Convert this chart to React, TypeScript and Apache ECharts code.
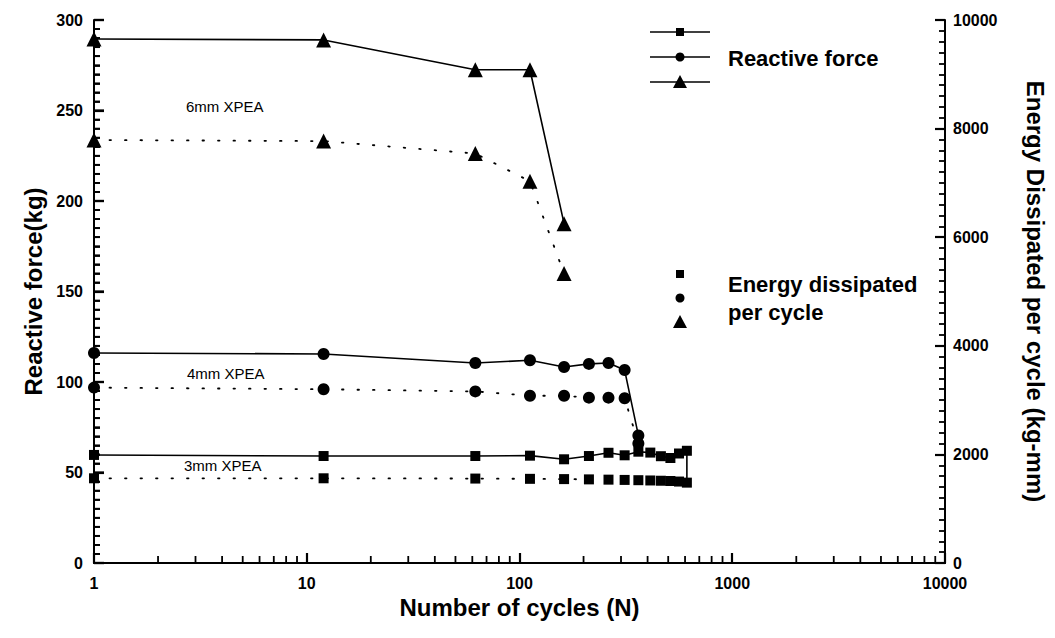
import React, { useEffect, useRef } from "react";
import * as echarts from "echarts";

// ---- data ----
const cycles6 = [1, 12, 62, 112, 162];
const force6 = [289.5, 289, 272.5, 272.5, 187.5];
const energy6 = [7790, 7770, 7540, 7030, 5330];

const cycles4 = [1, 12, 62, 112, 162, 212, 262, 312, 362];
const force4 = [116, 115.5, 110.5, 112, 108.3, 110, 110.5, 106.6, 70.5];
const energy4 = [3230, 3200, 3160, 3080, 3080, 3045, 3045, 3035, 2200];

const cycles3 = [1, 12, 62, 112, 162, 212, 262, 312, 362, 412, 462, 512, 562, 612];
const force3 = [59.7, 59.1, 59.1, 59.3, 57.3, 59.1, 60.9, 59.5, 61.5, 61, 59, 58, 60.5, 62];
const force3End = 46;
const energy3 = [1560, 1560, 1555, 1550, 1545, 1540, 1535, 1530, 1525, 1520, 1515, 1510, 1500, 1480];

const xMinorTicks = [
  2, 3, 4, 5, 6, 7, 8, 9,
  20, 30, 40, 50, 60, 70, 80, 90,
  200, 300, 400, 500, 600, 700, 800, 900,
  2000, 3000, 4000, 5000, 6000, 7000, 8000, 9000,
];
const leftMajor = [0, 50, 100, 150, 200, 250, 300];
const leftMinorStep = 5;

const FONT = "Liberation Sans, Arial, sans-serif";

function pairs(xs: number[], ys: number[]) {
  return xs.map((x, i) => [x, ys[i]]);
}

export default function App() {
  const ref = useRef<HTMLDivElement>(null);
  useEffect(() => {
    if (!ref.current) return;
    const chart = echarts.init(ref.current, null, { renderer: "svg" });

    const solid = { color: "#000", width: 1.6, type: "solid" as const };
    const dotted = { color: "#000", width: 1.8, type: [1.5, 14] as any, cap: "round" as const };

    const force3Data: any[] = pairs(cycles3, force3);
    force3Data.push({ value: [cycles3[cycles3.length - 1], force3End], symbol: "none" });

    // left-axis tick marks (major + minor)
    const leftTicks: number[][] = [];
    for (let i = 0; i < leftMajor.length; i++) {
      leftTicks.push([1, leftMajor[i], 1]);
      if (i < leftMajor.length - 1) {
        for (let v = leftMajor[i] + leftMinorStep; v < leftMajor[i + 1]; v += leftMinorStep) leftTicks.push([1, v, 0]);
      }
    }

    const tickLabel = { fontFamily: FONT, fontWeight: "bold", fontSize: 16, color: "#000" };
    const titleStyle = { fontFamily: FONT, fontWeight: "bold", fontSize: 24, color: "#000" };
    const mkTick = () => ({ show: true, inside: true, length: 10, lineStyle: { color: "#000", width: 2.2 } });
    const mkMinor = () => ({ show: true, splitNumber: 10, length: 6, lineStyle: { color: "#000", width: 1.8 } });

    chart.setOption({
      animation: false,
      backgroundColor: "#fff",
      grid: { left: 94, right: 101, top: 20, bottom: 75 },
      xAxis: [
        {
          type: "log",
          logBase: 10,
          min: 1,
          max: 10000,
          name: "Number of cycles (N)",
          nameLocation: "middle",
          nameGap: 32,
          nameTextStyle: titleStyle,
          axisLine: { show: true, lineStyle: { color: "#000", width: 2 } },
          axisTick: mkTick(),
          splitLine: { show: false },
          minorTick: { show: false },
          axisLabel: { ...tickLabel, margin: 12, formatter: (v: number) => String(v) },
        },
        {
          type: "log",
          logBase: 10,
          min: 1,
          max: 10000,
          position: "top",
          axisLine: { show: true, lineStyle: { color: "#000", width: 1.8 } },
          axisTick: { show: false },
          axisLabel: { show: false },
          splitLine: { show: false },
        },
      ],
      yAxis: [
        {
          type: "value",
          min: 0,
          max: 300,
          interval: 50,
          name: "Reactive force(kg)",
          nameLocation: "middle",
          nameGap: 46,
          nameTextStyle: titleStyle,
          axisLine: { show: true, lineStyle: { color: "#000", width: 2 } },
          axisTick: mkTick(),
          minorTick: mkMinor(),
          splitLine: { show: false },
          axisLabel: { ...tickLabel, margin: 11 },
        },
        {
          type: "value",
          min: 0,
          max: 10000,
          interval: 2000,
          position: "right",
          name: "Energy Dissipated per cycle (kg-mm)",
          nameLocation: "middle",
          nameGap: 78,
          nameRotate: -90,
          nameTextStyle: titleStyle,
          axisLine: { show: true, lineStyle: { color: "#000", width: 2 } },
          axisTick: mkTick(),
          minorTick: mkMinor(),
          splitLine: { show: false },
          axisLabel: { ...tickLabel, margin: 8, formatter: (v: number) => String(v) },
        },
      ],
      series: [
        {
          name: "6mm force",
          type: "line",
          data: pairs(cycles6, force6),
          yAxisIndex: 0,
          symbol: "triangle",
          symbolSize: 15,
          itemStyle: { color: "#000" },
          lineStyle: solid,
        },
        {
          name: "6mm energy",
          type: "line",
          data: pairs(cycles6, energy6),
          yAxisIndex: 1,
          symbol: "triangle",
          symbolSize: 15,
          itemStyle: { color: "#000" },
          lineStyle: dotted,
        },
        {
          name: "4mm force",
          type: "line",
          data: pairs(cycles4, force4),
          yAxisIndex: 0,
          symbol: "circle",
          symbolSize: 12,
          itemStyle: { color: "#000" },
          lineStyle: solid,
        },
        {
          name: "4mm energy",
          type: "line",
          data: pairs(cycles4, energy4),
          yAxisIndex: 1,
          symbol: "circle",
          symbolSize: 12,
          itemStyle: { color: "#000" },
          lineStyle: dotted,
        },
        {
          name: "3mm force",
          type: "line",
          data: force3Data,
          yAxisIndex: 0,
          symbol: "rect",
          symbolSize: 10,
          itemStyle: { color: "#000" },
          lineStyle: solid,
        },
        {
          name: "3mm energy",
          type: "line",
          data: pairs(cycles3, energy3),
          yAxisIndex: 1,
          symbol: "rect",
          symbolSize: 10,
          itemStyle: { color: "#000" },
          lineStyle: dotted,
        },
        {
          name: "x minor ticks",
          type: "custom",
          coordinateSystem: "cartesian2d",
          silent: true,
          clip: false,
          z: 10,
          xAxisIndex: 0,
          yAxisIndex: 0,
          data: xMinorTicks.map((v) => [v, 0]),
          renderItem: (params: any, api: any) => {
            const p = api.coord([api.value(0), 0]);
            return {
              type: "line",
              shape: { x1: p[0], y1: p[1], x2: p[0], y2: p[1] - 7 },
              style: { stroke: "#000", lineWidth: 1.8 },
            };
          },
        },
        {
          name: "left ticks",
          type: "custom",
          coordinateSystem: "cartesian2d",
          silent: true,
          clip: false,
          z: 10,
          xAxisIndex: 0,
          yAxisIndex: 0,
          data: leftTicks,
          renderItem: (params: any, api: any) => {
            const p = api.coord([api.value(0), api.value(1)]);
            const len = api.value(2) ? 10 : 6;
            return {
              type: "line",
              shape: { x1: p[0], y1: p[1], x2: p[0] + len, y2: p[1] },
              style: { stroke: "#000", lineWidth: api.value(2) ? 2.2 : 1.8 },
            };
          },
        },
      ],
      graphic: [
        // in-plot labels
        { type: "text", left: 186, top: 99, style: { text: "6mm XPEA", fontFamily: FONT, fontSize: 15, fill: "#000" } },
        { type: "text", left: 187, top: 366, style: { text: "4mm XPEA", fontFamily: FONT, fontSize: 15, fill: "#000" } },
        { type: "text", left: 184, top: 458, style: { text: "3mm XPEA", fontFamily: FONT, fontSize: 15, fill: "#000" } },
        // reactive force legend
        { type: "line", shape: { x1: 650, y1: 32, x2: 710, y2: 32 }, style: { stroke: "#000", lineWidth: 1.5 } },
        { type: "rect", shape: { x: 676, y: 28, width: 8, height: 8 }, style: { fill: "#000" } },
        { type: "line", shape: { x1: 650, y1: 57, x2: 710, y2: 57 }, style: { stroke: "#000", lineWidth: 1.5 } },
        { type: "circle", shape: { cx: 680, cy: 57, r: 4.5 }, style: { fill: "#000" } },
        { type: "line", shape: { x1: 650, y1: 82, x2: 710, y2: 82 }, style: { stroke: "#000", lineWidth: 1.5 } },
        { type: "polygon", shape: { points: [[680, 75], [673, 88], [687, 88]] }, style: { fill: "#000" } },
        { type: "text", left: 728, top: 47, style: { text: "Reactive force", fontFamily: FONT, fontWeight: "bold", fontSize: 22, fill: "#000" } },
        // energy legend
        { type: "rect", shape: { x: 676, y: 270, width: 8, height: 8 }, style: { fill: "#000" } },
        { type: "circle", shape: { cx: 680, cy: 298, r: 4.5 }, style: { fill: "#000" } },
        { type: "polygon", shape: { points: [[680, 315], [673, 328], [687, 328]] }, style: { fill: "#000" } },
        { type: "text", left: 728, top: 273, style: { text: "Energy dissipated", fontFamily: FONT, fontWeight: "bold", fontSize: 22, fill: "#000" } },
        { type: "text", left: 728, top: 301, style: { text: "per cycle", fontFamily: FONT, fontWeight: "bold", fontSize: 22, fill: "#000" } },
      ],
    });
    return () => chart.dispose();
  }, []);
  return <div ref={ref} style={{ width: 1055, height: 638, margin: -8 }} />;
}
